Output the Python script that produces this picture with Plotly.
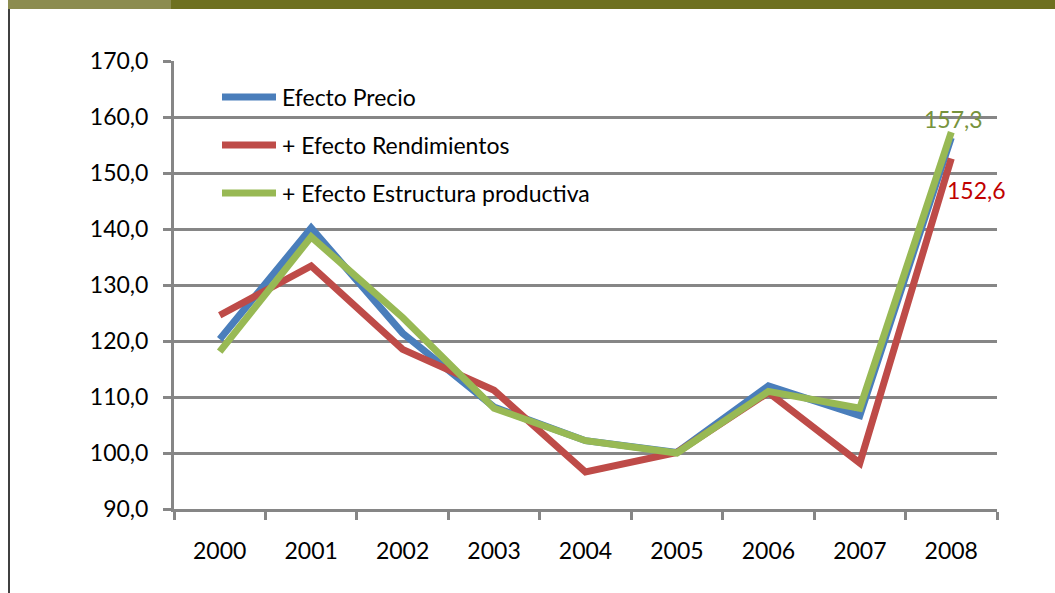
import plotly.graph_objects as go

# data
years = ["2000", "2001", "2002", "2003", "2004", "2005", "2006", "2007", "2008"]
efecto_precio = [120.3, 140.2, 121.4, 108.2, 102.2, 100.1, 112.0, 106.7, 156.3]
efecto_rendimientos = [124.6, 133.4, 118.5, 111.2, 96.6, 100.1, 110.8, 98.2, 152.6]
efecto_estructura = [118.1, 138.6, 124.2, 108.0, 102.2, 100.0, 111.0, 108.0, 157.3]

series_names = ["Efecto Precio", "+ Efecto Rendimientos", "+ Efecto Estructura productiva"]
series_colors = ["#4A7EBB", "#BE4B48", "#98B954"]
series_values = [efecto_precio, efecto_rendimientos, efecto_estructura]

y_ticks = [90, 100, 110, 120, 130, 140, 150, 160, 170]
y_ticktext = ["90,0", "100,0", "110,0", "120,0", "130,0", "140,0", "150,0", "160,0", "170,0"]

W, H = 1055, 593
FONT = "Lato"
FS = 23


def px(x):
    return x / W


def py(y):
    return 1 - y / H


def fmt(v):
    return f"{v:.1f}".replace(".", ",")


fig = go.Figure()
for name, vals, col in zip(series_names, series_values, series_colors):
    fig.add_trace(go.Scatter(
        x=years, y=vals, mode="lines", name=name,
        line=dict(color=col, width=7), showlegend=False,
    ))

# end-point labels (category index of the last year)
last = len(years) - 1
fig.add_annotation(x=last, y=efecto_estructura[-1], text=fmt(efecto_estructura[-1]),
                   showarrow=False, yshift=13, xshift=2,
                   font=dict(family=FONT, size=FS, color="#77933C"))
fig.add_annotation(x=last, y=efecto_rendimientos[-1], text=fmt(efecto_rendimientos[-1]),
                   showarrow=False, yshift=-32, xshift=-6, xanchor="left",
                   font=dict(family=FONT, size=FS, color="#C00000"))

# hand-drawn legend (Excel style, wide samples)
for i, (name, col) in enumerate(zip(series_names, series_colors)):
    ly = 97 + 48 * i
    fig.add_shape(type="line", xref="paper", yref="paper",
                  x0=px(222), x1=px(276), y0=py(ly), y1=py(ly),
                  line=dict(color=col, width=7))
    fig.add_annotation(xref="paper", yref="paper", x=px(280), y=py(ly),
                       xanchor="left", yanchor="middle", showarrow=False,
                       text=name, font=dict(family=FONT, size=FS, color="black"))

# slide decoration: top bars and left border
fig.add_shape(type="rect", xref="paper", yref="paper", x0=px(8), x1=px(171),
              y0=py(9), y1=1, fillcolor="#8C8C50", line=dict(width=0))
fig.add_shape(type="rect", xref="paper", yref="paper", x0=px(171), x1=1,
              y0=py(9), y1=1, fillcolor="#6E7020", line=dict(width=0))
fig.add_shape(type="line", xref="paper", yref="paper", x0=px(9), x1=px(9),
              y0=0, y1=py(9), line=dict(color="black", width=1.5))

fig.update_layout(
    width=W, height=H,
    margin=dict(l=0, r=0, t=0, b=0),
    paper_bgcolor="white", plot_bgcolor="white",
    showlegend=False,
    font=dict(family=FONT, size=FS, color="black"),
    xaxis=dict(
        domain=[px(174), px(997)],
        type="category", range=[-0.5, 8.5],
        tickson="boundaries", ticks="outside", ticklen=8, tickwidth=3,
        tickcolor="#868686", showline=True, linecolor="#868686", linewidth=3,
        showgrid=False, automargin=False, tickfont=dict(size=FS),
        ticklabelstandoff=19,
    ),
    yaxis=dict(
        domain=[1 - 509 / H, 1 - 61 / H],
        range=[90, 170], tickvals=y_ticks, ticktext=y_ticktext,
        ticks="outside", ticklen=8, tickwidth=3, tickcolor="#868686",
        showline=True, linecolor="#868686", linewidth=3,
        showgrid=True, gridcolor="#868686", gridwidth=3,
        zeroline=False, automargin=False, tickfont=dict(size=FS),
        ticklabelstandoff=10,
    ),
)

fig.write_html("out.html", config={"displayModeBar": False},
               post_script="document.body.style.margin='0px';")
